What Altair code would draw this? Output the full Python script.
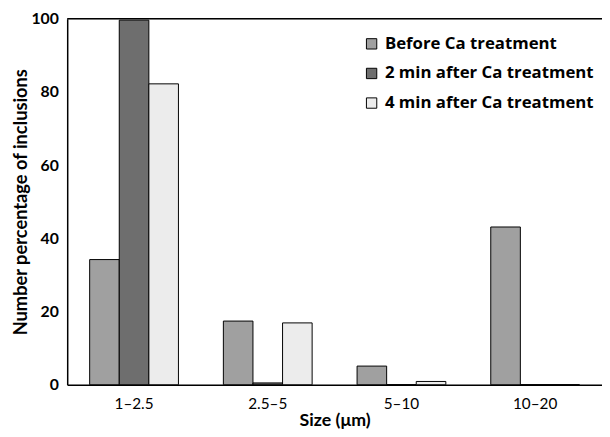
import altair as alt
import pandas as pd

sizes = ["1–2.5", "2.5–5", "5–10", "10–20"]
series = ["Before Ca treatment", "2 min after Ca treatment", "4 min after Ca treatment"]
before = [34.2, 17.4, 5.1, 43.1]
after2 = [99.6, 0.5, 0.0, 0.0]
after4 = [82.2, 16.9, 0.9, 0.0]
y_ticks = [0, 20, 40, 60, 80, 100]
fills = ["#a0a0a0", "#6e6e6e", "#ececec"]

rows = []
for s, vals in zip(series, [before, after2, after4]):
    for c, v in zip(sizes, vals):
        rows.append({"size": c, "series": s, "value": v})
df = pd.DataFrame(rows)

FONT = "Lato"

bars = alt.Chart(df).mark_bar(stroke="black", strokeWidth=1).encode(
    x=alt.X(
        "size:N", sort=sizes,
        scale=alt.Scale(paddingInner=0.336, paddingOuter=0.168),
        axis=alt.Axis(title="Size (μm)", labelAngle=0, ticks=False, labelPadding=12,
                      labelFontSize=15.5, labelFont=FONT, labelColor="black",
                      titleFont=FONT, titleFontSize=18, titleFontWeight="bold",
                      titleColor="black", titlePadding=0,
                      domainColor="black", domainWidth=1.5),
    ),
    xOffset=alt.XOffset("series:N", sort=series,
                        scale=alt.Scale(paddingInner=0, paddingOuter=0)),
    y=alt.Y(
        "value:Q",
        scale=alt.Scale(domain=[0, 100], nice=False),
        axis=alt.Axis(values=y_ticks, title="Number percentage of inclusions",
                      ticks=False, grid=False, labelPadding=9,
                      labelFontSize=16, labelFont=FONT, labelFontWeight="bold",
                      labelColor="black",
                      titleFont=FONT, titleFontSize=18.5, titleFontWeight="bold",
                      titleColor="black", titlePadding=0,
                      domainColor="black", domainWidth=1.5),
    ),
    fill=alt.Fill(
        "series:N", sort=series,
        scale=alt.Scale(domain=series, range=fills),
        legend=alt.Legend(title=None, orient="none", legendX=300, legendY=17,
                          symbolType="square", symbolSize=110,
                          symbolStrokeColor="black", symbolStrokeWidth=1,
                          labelFont="Open Sans", labelFontSize=17, labelFontWeight="bold",
                          labelColor="black", rowPadding=12, labelOffset=5,
                          labelLimit=400),
    ),
)

top = alt.Chart(pd.DataFrame({"t": [0]})).mark_rule(color="black", strokeWidth=1.5).encode(
    y=alt.value(0)
)

chart = alt.layer(bars, top).properties(
    width=542, height=371,
    autosize=alt.AutoSizeParams(type="none"),
    padding={"left": 60, "top": 8, "right": 0, "bottom": 42},
).configure_view(stroke=None).configure(background="white")

chart.save("out.html", embed_options={"renderer": "svg", "actions": False})
